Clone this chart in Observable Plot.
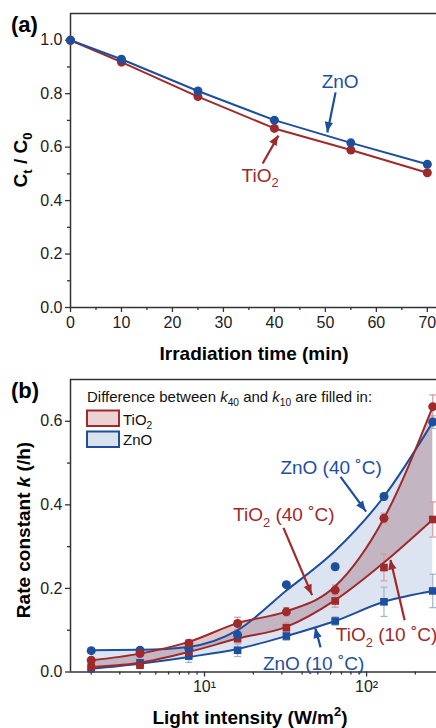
<!DOCTYPE html>
<html><head><meta charset="utf-8">
<script src="https://cdn.jsdelivr.net/npm/d3@7"></script>
<script src="https://cdn.jsdelivr.net/npm/@observablehq/plot@0.6"></script>
<style>
body{margin:0;background:#fff;}
#chart{width:436px;height:728px;overflow:hidden;}
#chart svg{display:block;}
</style></head><body><div id="chart"></div>
<script>
// ---------- Panel (a) data ----------
const timeMin   = [0, 10, 25, 40, 55, 70];
const tio2Ratio = [1.0, 0.918, 0.789, 0.670, 0.589, 0.504];
const znoRatio  = [1.0, 0.929, 0.810, 0.701, 0.616, 0.536];
const timeTicks = [0, 10, 20, 30, 40, 50, 60, 70];
const timeMinorTicks = [5, 15, 25, 35, 45, 55, 65];
const ratioTicks = [0, 0.2, 0.4, 0.6, 0.8, 1.0];
const ratioMinorTicks = [0.1, 0.3, 0.5, 0.7, 0.9];

// ---------- Panel (b) data ----------
const intensity   = [2, 4, 8, 16, 32, 64, 128, 256];
const tio2K40     = [0.028, 0.044, 0.069, 0.116, 0.144, 0.196, 0.368, 0.635];
const tio2K40Err  = [0.005, 0.005, 0.008, 0.015, 0.010, 0.012, 0.012, 0.028];
const tio2K10     = [0.012, 0.016, 0.048, 0.080, 0.106, 0.170, 0.250, 0.365];
const tio2K10Err  = [0.005, 0.005, 0.008, 0.010, 0.012, 0.015, 0.032, 0.042];
const znoK40      = [0.051, 0.052, 0.056, 0.089, 0.209, 0.252, 0.420, 0.598];
const znoK40Err   = [0.003, 0.004, 0.005, 0.008, 0.006, 0.008, 0.008, 0.015];
const znoK10      = [0.008, 0.022, 0.038, 0.052, 0.086, 0.122, 0.168, 0.194];
const znoK10Err   = [0.004, 0.005, 0.015, 0.015, 0.010, 0.010, 0.035, 0.040];
// fitted curves (value of each curve at each intensity)
const tio2K40Fit  = [0.028, 0.044, 0.072, 0.117, 0.145, 0.205, 0.368, 0.635];
const tio2K10Fit  = [0.012, 0.022, 0.048, 0.080, 0.108, 0.172, 0.262, 0.365];
const znoK40Fit   = [0.052, 0.053, 0.060, 0.100, 0.195, 0.290, 0.420, 0.598];
const znoK10Fit   = [0.008, 0.020, 0.036, 0.055, 0.086, 0.122, 0.168, 0.194];
const intensityTicks = [10, 100];
const intensityTickLabels = ["10\u00B9", "10\u00B2"];
const intensityMinorTicks = [2,3,4,5,6,7,8,9,20,30,40,50,60,70,80,90,200];
const kTicks = [0, 0.2, 0.4, 0.6];
const kMinorTicks = [0.1, 0.3, 0.5];

// annotations (data coordinates)
const annotA = [
  {series: "zno",  parts: [{t: "ZnO"}], x: 53.0, y: 0.818, x1: 52.0, y1: 0.805, x2: 50.4, y2: 0.655},
  {series: "tio2", parts: [{t: "TiO"}, {t: "2", sub: true}], x: 37.3, y: 0.469, x1: 37.7, y1: 0.539, x2: 40.8, y2: 0.643}
];
const annotB = [
  {series: "zno",  anchor: "middle", parts: [{t: "ZnO (40 \u02DAC)"}], x: 60.8, y: 0.4716, x1: 69.1, y1: 0.467, x2: 99.3, y2: 0.384},
  {series: "tio2", anchor: "start", parts: [{t: "TiO"}, {t: "2", sub: true}, {t: " (40 \u02DAC)"}], x: 15.1, y: 0.3595, x1: 30.7, y1: 0.345, x2: 46.1, y2: 0.184},
  {series: "tio2", anchor: "start", parts: [{t: "TiO"}, {t: "2", sub: true}, {t: " (10 \u02DAC)"}], x: 65.0, y: 0.072, x1: 171.7, y1: 0.124, x2: 140.6, y2: 0.268},
  {series: "zno",  anchor: "start", parts: [{t: "ZnO (10 \u02DAC)"}], x: 23.1, y: 0.004, x1: 52.0, y1: 0.059, x2: 48.4, y2: 0.104}
];

// ---------- styling ----------
const colors = {tio2: "#9e2a2b", zno: "#1e4f9c"};
const errColors = {tio2: "#d49a9a", zno: "#9db4d6"};
const font = "'Liberation Sans', Arial, sans-serif";
const axisColor = "#333";
const curve = "monotone-x";

const tableA = timeMin.map((t, i) => ({t, tio2: tio2Ratio[i], zno: znoRatio[i]}));
const tableB = intensity.map((x, i) => ({
  x, tio2K40Fit: tio2K40Fit[i], tio2K10Fit: tio2K10Fit[i], znoK40Fit: znoK40Fit[i], znoK10Fit: znoK10Fit[i]
}));
const pointsB = [];
intensity.forEach((x, i) => {
  pointsB.push({x, k: znoK10[i],  err: znoK10Err[i],  mat: "zno",  temp: 10});
  pointsB.push({x, k: tio2K10[i], err: tio2K10Err[i], mat: "tio2", temp: 10});
  pointsB.push({x, k: znoK40[i],  err: znoK40Err[i],  mat: "zno",  temp: 40});
  pointsB.push({x, k: tio2K40[i], err: tio2K40Err[i], mat: "tio2", temp: 40});
});

const capSymbol = {draw(ctx, size) { const r = Math.sqrt(size / Math.PI); ctx.moveTo(-r, 0); ctx.lineTo(r, 0); }};

const baseStyle = {fontFamily: font, fontSize: "16px", color: "#222", background: "white", overflow: "visible"};

const arrowShafts = (list) => ["zno", "tio2"].map(s =>
  Plot.link(list.filter(d => d.series === s), {x1: "x1", y1: "y1", x2: "x2", y2: "y2", stroke: colors[s], strokeWidth: 2.2}));

// ---------- Panel (a) ----------
const xDomA = [0, 71.8], yDomA = [0, 1.1];
const plotA = Plot.plot({
  width: 436, height: 365, marginTop: 13, marginBottom: 58, marginLeft: 70, marginRight: 0,
  style: baseStyle,
  x: {domain: xDomA, axis: null},
  y: {domain: yDomA, axis: null},
  marks: [
    Plot.axisX(timeTicks, {tickSize: 5, tickPadding: 4, tickFormat: d => String(d), label: null, stroke: axisColor, strokeWidth: 1.3, fill: "#222"}),
    Plot.axisX(timeMinorTicks, {tickSize: 3, tickFormat: () => "", label: null, stroke: axisColor, strokeWidth: 1.3}),
    Plot.axisY(ratioTicks, {tickSize: 5, tickPadding: 3, tickFormat: d3.format(".1f"), label: null, stroke: axisColor, strokeWidth: 1.3, fill: "#222"}),
    Plot.axisY(ratioMinorTicks, {tickSize: 3, tickFormat: () => "", label: null, stroke: axisColor, strokeWidth: 1.3}),
    Plot.ruleX([xDomA[0]], {stroke: axisColor, strokeWidth: 1.5}),
    Plot.ruleY([yDomA[0]], {stroke: axisColor, strokeWidth: 1.5}),
    Plot.ruleY([yDomA[1]], {stroke: axisColor, strokeWidth: 1.5}),
    Plot.line(tableA, {x: "t", y: "tio2", stroke: colors.tio2, strokeWidth: 2}),
    Plot.line(tableA, {x: "t", y: "zno", stroke: colors.zno, strokeWidth: 2}),
    Plot.dot(tableA, {x: "t", y: "tio2", r: 4.5, fill: colors.tio2, stroke: "none"}),
    Plot.dot(tableA, {x: "t", y: "zno", r: 4.5, fill: colors.zno, stroke: "none"}),
    ...arrowShafts(annotA)
  ]
});

// ---------- Panel (b) ----------
const xDomB = [1.49, 270], yDomB = [0, 0.7];
const errMarks = mat => [
  Plot.ruleX(pointsB.filter(d => d.mat === mat), {x: "x", y1: d => d.k - d.err, y2: d => d.k + d.err, stroke: errColors[mat], strokeWidth: 1.2}),
  Plot.dot(pointsB.filter(d => d.mat === mat), {x: "x", y: d => d.k + d.err, symbol: capSymbol, r: 3.5, stroke: errColors[mat], strokeWidth: 1.2, fill: "none"}),
  Plot.dot(pointsB.filter(d => d.mat === mat), {x: "x", y: d => d.k - d.err, symbol: capSymbol, r: 3.5, stroke: errColors[mat], strokeWidth: 1.2, fill: "none"})
];
const plotB = Plot.plot({
  width: 436, height: 363, marginTop: 14, marginBottom: 56.5, marginLeft: 70, marginRight: 0,
  style: baseStyle,
  x: {type: "log", domain: xDomB, axis: null},
  y: {domain: yDomB, axis: null},
  color: {type: "identity"},
  marks: [
    Plot.areaY(tableB, {x: "x", y1: "znoK10Fit", y2: "znoK40Fit", curve, fill: "#c3d2e6", fillOpacity: 0.6}),
    Plot.areaY(tableB, {x: "x", y1: "tio2K10Fit", y2: "tio2K40Fit", curve, fill: "#8e4a5c", fillOpacity: 0.3}),
    ...errMarks("zno"),
    ...errMarks("tio2"),
    Plot.axisX(intensityTicks, {tickSize: 5, tickPadding: 4, tickFormat: d => intensityTickLabels[intensityTicks.indexOf(+d)], label: null, stroke: axisColor, strokeWidth: 1.3, fill: "#222"}),
    Plot.axisX(intensityMinorTicks, {tickSize: 3, tickFormat: () => "", label: null, stroke: axisColor, strokeWidth: 1.3}),
    Plot.axisY(kTicks, {tickSize: 5, tickPadding: 3, tickFormat: d3.format(".1f"), label: null, stroke: axisColor, strokeWidth: 1.3, fill: "#222"}),
    Plot.axisY(kMinorTicks, {tickSize: 3, tickFormat: () => "", label: null, stroke: axisColor, strokeWidth: 1.3}),
    Plot.ruleX([xDomB[0]], {stroke: axisColor, strokeWidth: 1.5}),
    Plot.ruleY([yDomB[0]], {stroke: axisColor, strokeWidth: 1.5}),
    Plot.ruleY([yDomB[1]], {stroke: axisColor, strokeWidth: 1.5}),
    Plot.line(tableB, {x: "x", y: "znoK10Fit", curve, stroke: colors.zno, strokeWidth: 2}),
    Plot.line(tableB, {x: "x", y: "tio2K10Fit", curve, stroke: colors.tio2, strokeWidth: 2}),
    Plot.line(tableB, {x: "x", y: "znoK40Fit", curve, stroke: colors.zno, strokeWidth: 2}),
    Plot.line(tableB, {x: "x", y: "tio2K40Fit", curve, stroke: colors.tio2, strokeWidth: 2}),
    Plot.dot(pointsB.filter(d => d.temp === 10), {x: "x", y: "k", symbol: "square", r: 4.3, fill: d => colors[d.mat], stroke: "none"}),
    Plot.dot(pointsB.filter(d => d.temp === 40), {x: "x", y: "k", symbol: "circle", r: 4.5, fill: d => colors[d.mat], stroke: "none"}),
    ...arrowShafts(annotB)
  ]
});

// ---------- rich text helpers ----------
function rich(svg, o, parts) {
  const t = d3.select(svg).append("text")
    .attr("transform", `translate(${o.x},${o.y})` + (o.rotate ? ` rotate(${o.rotate})` : ""))
    .attr("text-anchor", o.anchor || "start")
    .attr("font-family", font).attr("font-size", o.size)
    .attr("font-weight", o.weight || "normal")
    .attr("fill", o.fill || "#111");
  let shift = 0;
  for (const p of parts) {
    const ts = t.append("tspan").text(p.t);
    const target = p.sub ? o.size * 0.3 : p.sup ? -o.size * 0.4 : 0;
    if (target !== shift) { ts.attr("dy", target - shift); shift = target; }
    if (p.sub || p.sup) ts.attr("font-size", o.size * 0.68);
    if (p.i) ts.attr("font-style", "italic");
  }
  return t;
}
function scaleFn(plot, name, type) {
  const s = plot.scale(name);
  if (s && typeof s.apply === "function") return v => s.apply(v);
  return (type === "log" ? d3.scaleLog : d3.scaleLinear)(s.domain, s.range);
}
// filled arrow heads at the end of each annotation arrow, positioned through the plot's scales
function arrowHeads(svg, list, sx, sy) {
  list.forEach(a => {
    const x1 = sx(a.x1), y1 = sy(a.y1), x2 = sx(a.x2), y2 = sy(a.y2);
    const len = Math.hypot(x2 - x1, y2 - y1), ux = (x2 - x1) / len, uy = (y2 - y1) / len;
    const L = 10, W = 4.2;
    const bx = x2 - ux * L, by = y2 - uy * L;
    d3.select(svg).append("path")
      .attr("d", `M${x2},${y2}L${bx - uy * W},${by + ux * W}L${bx + uy * W},${by - ux * W}Z`)
      .attr("fill", colors[a.series]);
  });
}

const sxA = scaleFn(plotA, "x"), syA = scaleFn(plotA, "y");
const sxB = scaleFn(plotB, "x", "log"), syB = scaleFn(plotB, "y");
arrowHeads(plotA, annotA, sxA, syA);
arrowHeads(plotB, annotB, sxB, syB);

// panel (a) texts
rich(plotA, {x: 11, y: 32, size: 22, weight: "bold", fill: "#000"}, [{t: "(a)"}]);
rich(plotA, {x: 26.5, y: 160, size: 19, weight: "bold", rotate: -90, anchor: "middle", fill: "#000"},
  [{t: "C"}, {t: "t", sub: true}, {t: " / C"}, {t: "0", sub: true}]);
rich(plotA, {x: 254, y: 360, size: 19, weight: "bold", anchor: "middle", fill: "#000"}, [{t: "Irradiation time (min)"}]);
annotA.forEach(a => rich(plotA, {x: sxA(a.x), y: syA(a.y), size: 19, anchor: "middle", fill: colors[a.series]}, a.parts));

// panel (b) texts
rich(plotB, {x: 11, y: 33, size: 22, weight: "bold", fill: "#000"}, [{t: "(b)"}]);
rich(plotB, {x: 30, y: 165, size: 19, weight: "bold", rotate: -90, anchor: "middle", fill: "#000"},
  [{t: "Rate constant "}, {t: "k", i: true}, {t: " (/h)"}]);
rich(plotB, {x: 250, y: 359, size: 19, weight: "bold", anchor: "middle", fill: "#000"},
  [{t: "Light intensity (W/m"}, {t: "2", sup: true}, {t: ")"}]);
annotB.forEach(a => rich(plotB, {x: sxB(a.x), y: syB(a.y), size: 19, anchor: a.anchor, fill: colors[a.series]}, a.parts));

// legend
rich(plotB, {x: 87, y: 36.5, size: 15, fill: "#111"},
  [{t: "Difference between "}, {t: "k", i: true}, {t: "40", sub: true}, {t: " and "}, {t: "k", i: true}, {t: "10", sub: true}, {t: " are filled in:"}]);
const legendItems = [
  {parts: [{t: "TiO"}, {t: "2", sub: true}], fill: "#ebd3d5", stroke: colors.tio2},
  {parts: [{t: "ZnO"}], fill: "#d9e2ee", stroke: colors.zno}
];
legendItems.forEach((d, i) => {
  d3.select(plotB).append("rect").attr("x", 87).attr("y", 45.5 + i * 21).attr("width", 32).attr("height", 15.5)
    .attr("fill", d.fill).attr("stroke", d.stroke).attr("stroke-width", 2);
  rich(plotB, {x: 123, y: 59.5 + i * 20.5, size: 15, fill: "#111"}, d.parts);
});

document.getElementById("chart").append(plotA, plotB);
</script></body></html>
